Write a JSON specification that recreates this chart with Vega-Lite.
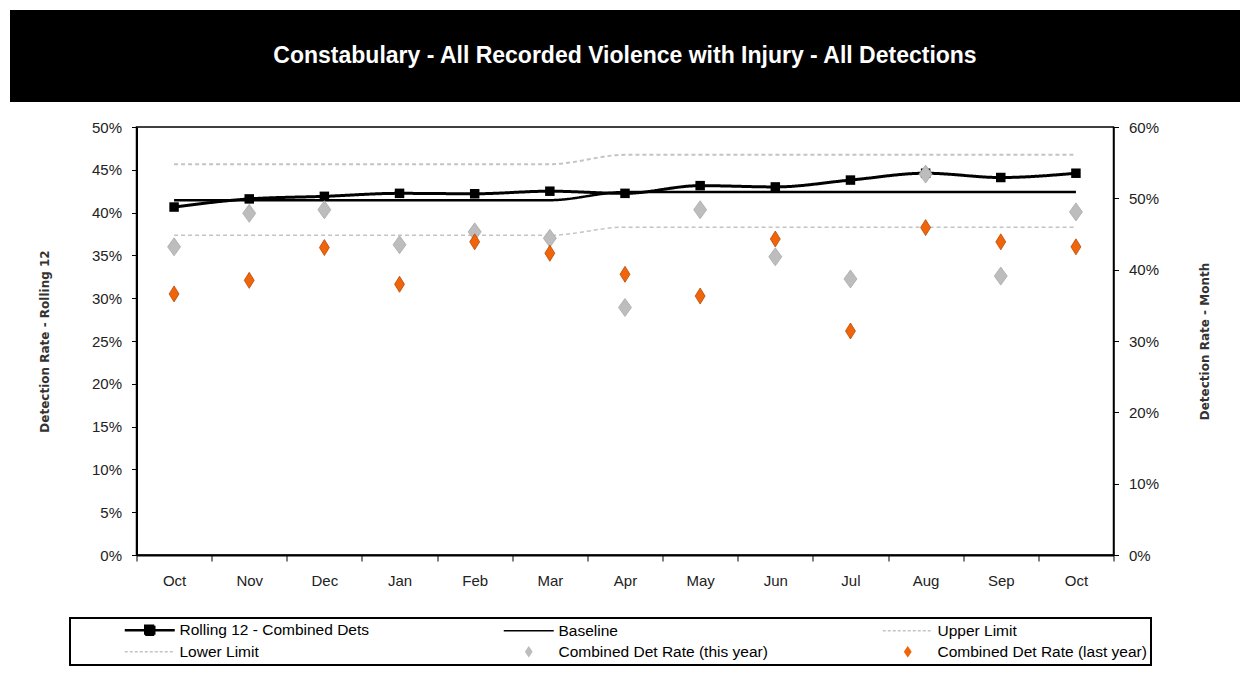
{
  "$schema": "https://vega.github.io/schema/vega-lite/v6.json",
  "background": "white",
  "padding": {"left": 10, "top": 10, "right": 10, "bottom": 5},
  "config": {"font": "Liberation Sans", "view": {"stroke": null}},
  "spacing": 25,
  "center": true,
  "bounds": "flush",
  "vconcat": [
    {
      "width": 1230,
      "height": 92,
      "view": {"fill": "black", "stroke": null},
      "data": {"values": [{"title": "Constabulary - All Recorded Violence with Injury - All Detections"}]},
      "mark": {"type": "text", "color": "white", "fontSize": 23, "fontWeight": "bold", "font": "Liberation Sans"},
      "encoding": {"text": {"field": "title", "type": "nominal"}}
    },
    {
      "width": 977,
      "height": 428,
      "view": {"stroke": "black", "strokeWidth": 1.5},
      "data": {
        "values": [
          {"month": "Oct 1", "series": "Rolling 12 - Combined Dets", "value": 0.4065},
          {"month": "Nov 1", "series": "Rolling 12 - Combined Dets", "value": 0.416},
          {"month": "Dec 1", "series": "Rolling 12 - Combined Dets", "value": 0.419},
          {"month": "Jan 2", "series": "Rolling 12 - Combined Dets", "value": 0.4225},
          {"month": "Feb 2", "series": "Rolling 12 - Combined Dets", "value": 0.422},
          {"month": "Mar 2", "series": "Rolling 12 - Combined Dets", "value": 0.425},
          {"month": "Apr 2", "series": "Rolling 12 - Combined Dets", "value": 0.4225},
          {"month": "May 2", "series": "Rolling 12 - Combined Dets", "value": 0.4315},
          {"month": "Jun 2", "series": "Rolling 12 - Combined Dets", "value": 0.43},
          {"month": "Jul 2", "series": "Rolling 12 - Combined Dets", "value": 0.438},
          {"month": "Aug 2", "series": "Rolling 12 - Combined Dets", "value": 0.446},
          {"month": "Sep 2", "series": "Rolling 12 - Combined Dets", "value": 0.441},
          {"month": "Oct 2", "series": "Rolling 12 - Combined Dets", "value": 0.446},
          {"month": "Oct 1", "series": "Baseline", "value": 0.4145},
          {"month": "Nov 1", "series": "Baseline", "value": 0.4145},
          {"month": "Dec 1", "series": "Baseline", "value": 0.4145},
          {"month": "Jan 2", "series": "Baseline", "value": 0.4145},
          {"month": "Feb 2", "series": "Baseline", "value": 0.4145},
          {"month": "Mar 2", "series": "Baseline", "value": 0.4145},
          {"month": "Apr 2", "series": "Baseline", "value": 0.424},
          {"month": "May 2", "series": "Baseline", "value": 0.424},
          {"month": "Jun 2", "series": "Baseline", "value": 0.424},
          {"month": "Jul 2", "series": "Baseline", "value": 0.424},
          {"month": "Aug 2", "series": "Baseline", "value": 0.424},
          {"month": "Sep 2", "series": "Baseline", "value": 0.424},
          {"month": "Oct 2", "series": "Baseline", "value": 0.424},
          {"month": "Oct 1", "series": "Upper Limit", "value": 0.4565},
          {"month": "Nov 1", "series": "Upper Limit", "value": 0.4565},
          {"month": "Dec 1", "series": "Upper Limit", "value": 0.4565},
          {"month": "Jan 2", "series": "Upper Limit", "value": 0.4565},
          {"month": "Feb 2", "series": "Upper Limit", "value": 0.4565},
          {"month": "Mar 2", "series": "Upper Limit", "value": 0.4565},
          {"month": "Apr 2", "series": "Upper Limit", "value": 0.4675},
          {"month": "May 2", "series": "Upper Limit", "value": 0.4675},
          {"month": "Jun 2", "series": "Upper Limit", "value": 0.4675},
          {"month": "Jul 2", "series": "Upper Limit", "value": 0.4675},
          {"month": "Aug 2", "series": "Upper Limit", "value": 0.4675},
          {"month": "Sep 2", "series": "Upper Limit", "value": 0.4675},
          {"month": "Oct 2", "series": "Upper Limit", "value": 0.4675},
          {"month": "Oct 1", "series": "Lower Limit", "value": 0.3735},
          {"month": "Nov 1", "series": "Lower Limit", "value": 0.3735},
          {"month": "Dec 1", "series": "Lower Limit", "value": 0.3735},
          {"month": "Jan 2", "series": "Lower Limit", "value": 0.3735},
          {"month": "Feb 2", "series": "Lower Limit", "value": 0.3735},
          {"month": "Mar 2", "series": "Lower Limit", "value": 0.3735},
          {"month": "Apr 2", "series": "Lower Limit", "value": 0.383},
          {"month": "May 2", "series": "Lower Limit", "value": 0.383},
          {"month": "Jun 2", "series": "Lower Limit", "value": 0.383},
          {"month": "Jul 2", "series": "Lower Limit", "value": 0.383},
          {"month": "Aug 2", "series": "Lower Limit", "value": 0.383},
          {"month": "Sep 2", "series": "Lower Limit", "value": 0.383},
          {"month": "Oct 2", "series": "Lower Limit", "value": 0.383},
          {"month": "Oct 1", "series": "Combined Det Rate (this year)", "value": 0.432},
          {"month": "Nov 1", "series": "Combined Det Rate (this year)", "value": 0.479},
          {"month": "Dec 1", "series": "Combined Det Rate (this year)", "value": 0.484},
          {"month": "Jan 2", "series": "Combined Det Rate (this year)", "value": 0.435},
          {"month": "Feb 2", "series": "Combined Det Rate (this year)", "value": 0.453},
          {"month": "Mar 2", "series": "Combined Det Rate (this year)", "value": 0.444},
          {"month": "Apr 2", "series": "Combined Det Rate (this year)", "value": 0.347},
          {"month": "May 2", "series": "Combined Det Rate (this year)", "value": 0.484},
          {"month": "Jun 2", "series": "Combined Det Rate (this year)", "value": 0.418},
          {"month": "Jul 2", "series": "Combined Det Rate (this year)", "value": 0.387},
          {"month": "Aug 2", "series": "Combined Det Rate (this year)", "value": 0.534},
          {"month": "Sep 2", "series": "Combined Det Rate (this year)", "value": 0.391},
          {"month": "Oct 2", "series": "Combined Det Rate (this year)", "value": 0.481},
          {"month": "Oct 1", "series": "Combined Det Rate (last year)", "value": 0.366},
          {"month": "Nov 1", "series": "Combined Det Rate (last year)", "value": 0.385},
          {"month": "Dec 1", "series": "Combined Det Rate (last year)", "value": 0.431},
          {"month": "Jan 2", "series": "Combined Det Rate (last year)", "value": 0.3795},
          {"month": "Feb 2", "series": "Combined Det Rate (last year)", "value": 0.439},
          {"month": "Mar 2", "series": "Combined Det Rate (last year)", "value": 0.423},
          {"month": "Apr 2", "series": "Combined Det Rate (last year)", "value": 0.3935},
          {"month": "May 2", "series": "Combined Det Rate (last year)", "value": 0.363},
          {"month": "Jun 2", "series": "Combined Det Rate (last year)", "value": 0.443},
          {"month": "Jul 2", "series": "Combined Det Rate (last year)", "value": 0.314},
          {"month": "Aug 2", "series": "Combined Det Rate (last year)", "value": 0.459},
          {"month": "Sep 2", "series": "Combined Det Rate (last year)", "value": 0.439},
          {"month": "Oct 2", "series": "Combined Det Rate (last year)", "value": 0.432}
        ]
      },
      "layer": [
        {
          "layer": [
            {
              "transform": [{"filter": {"field": "series", "oneOf": ["Rolling 12 - Combined Dets", "Baseline", "Upper Limit", "Lower Limit"]}}],
              "mark": {"type": "line", "interpolate": "monotone"},
              "encoding": {
                "x": {
                  "field": "month", "type": "ordinal", "bandPosition": 0.5,
                  "scale": {"type": "band", "paddingInner": 0, "paddingOuter": 0,
                    "domain": ["Oct 1", "Nov 1", "Dec 1", "Jan 2", "Feb 2", "Mar 2", "Apr 2", "May 2", "Jun 2", "Jul 2", "Aug 2", "Sep 2", "Oct 2"]},
                  "axis": {
                    "title": null, "labelAngle": 0, "tickBand": "extent", "tickSize": 6, "tickColor": "black",
                    "domainColor": "black", "domainWidth": 2, "labelFontSize": 15, "labelColor": "#222",
                    "labelPadding": 12, "grid": false, "labelExpr": "split(datum.label, ' ')[0]"
                  }
                },
                "y": {
                  "field": "value", "type": "quantitative",
                  "scale": {"domain": [0, 0.5], "nice": false, "zero": true},
                  "axis": {
                    "title": "Detection Rate - Rolling 12", "orient": "left",
                    "values": [0, 0.05, 0.1, 0.15, 0.2, 0.25, 0.3, 0.35, 0.4, 0.45, 0.5],
                    "format": ".0%", "grid": false, "tickSize": 5, "tickColor": "black",
                    "domainColor": "black", "domainWidth": 2, "labelFontSize": 15, "labelColor": "#222",
                    "labelPadding": 10, "titleFont": "DejaVu Sans", "titleFontSize": 12, "titleFontWeight": "bold",
                    "titleColor": "#333", "titlePadding": 40
                  }
                },
                "color": {
                  "field": "series", "type": "nominal",
                  "scale": {
                    "domain": ["Rolling 12 - Combined Dets", "Lower Limit", "Baseline", "Combined Det Rate (this year)", "Upper Limit", "Combined Det Rate (last year)"],
                    "range": ["black", "#c4c4c4", "black", "#bdbdbd", "#c4c4c4", "#f0640a"]
                  },
                  "legend": {
                    "title": null, "orient": "none", "legendX": 60, "legendY": 608,
                    "columns": 3, "gridAlign": "all", "columnPadding": 64, "rowPadding": 4,
                    "padding": 4, "symbolSize": 2500, "symbolOffset": 68, "labelFontSize": 15.5, "labelColor": "black",
                    "labelLimit": 400, "labelOffset": 22,
                    "encode": {
                      "legend": {"update": {"stroke": {"value": "black"}, "strokeWidth": {"value": 2}}},
                      "symbols": {
                        "update": {
                          "shape": {"signal": "datum.value == 'Rolling 12 - Combined Dets' ? 'M-1,0H1M-0.18,-0.18H0.18V0.18H-0.18Z' : (indexof(['Combined Det Rate (this year)', 'Combined Det Rate (last year)'], datum.value) >= 0 ? 'M0,-0.18L0.12,0L0,0.18L-0.12,0Z' : 'M-1,0H1')"},
                          "fill": {"signal": "datum.value == 'Rolling 12 - Combined Dets' ? 'black' : (datum.value == 'Combined Det Rate (this year)' ? '#bdbdbd' : (datum.value == 'Combined Det Rate (last year)' ? '#f0640a' : 'transparent'))"},
                          "stroke": {"signal": "indexof(['Rolling 12 - Combined Dets', 'Baseline'], datum.value) >= 0 ? 'black' : (indexof(['Upper Limit', 'Lower Limit'], datum.value) >= 0 ? '#c4c4c4' : 'transparent')"},
                          "strokeWidth": {"signal": "datum.value == 'Rolling 12 - Combined Dets' ? 2.5 : 1.5"},
                          "strokeDash": {"signal": "indexof(['Upper Limit', 'Lower Limit'], datum.value) >= 0 ? [3, 2] : [1, 0]"},
                          "opacity": {"value": 1}
                        }
                      }
                    }
                  }
                },
                "strokeDash": {
                  "field": "series", "type": "nominal",
                  "scale": {"domain": ["Rolling 12 - Combined Dets", "Baseline", "Upper Limit", "Lower Limit"], "range": [[1, 0], [1, 0], [4, 3], [4, 3]]},
                  "legend": null
                },
                "strokeWidth": {
                  "field": "series", "type": "nominal",
                  "scale": {"domain": ["Rolling 12 - Combined Dets", "Baseline", "Upper Limit", "Lower Limit"], "range": [3, 1.5, 1.5, 1.5]},
                  "legend": null
                }
              }
            },
            {
              "transform": [{"filter": {"field": "series", "equal": "Rolling 12 - Combined Dets"}}],
              "mark": {"type": "square", "size": 90, "filled": true, "opacity": 1},
              "encoding": {
                "x": {"field": "month", "type": "ordinal", "bandPosition": 0.5},
                "y": {"field": "value", "type": "quantitative"},
                "color": {"field": "series", "type": "nominal", "legend": null}
              }
            }
          ]
        },
        {
          "transform": [{"filter": {"field": "series", "oneOf": ["Combined Det Rate (this year)", "Combined Det Rate (last year)"]}}],
          "mark": {"type": "point", "filled": true, "opacity": 1, "strokeWidth": 0.8},
          "encoding": {
            "x": {"field": "month", "type": "ordinal", "bandPosition": 0.5},
            "y": {
              "field": "value", "type": "quantitative",
              "scale": {"domain": [0, 0.6], "nice": false, "zero": true},
              "axis": {
                "title": "Detection Rate - Month", "orient": "right",
                "values": [0, 0.1, 0.2, 0.3, 0.4, 0.5, 0.6],
                "format": ".0%", "grid": false, "tickSize": 5, "tickColor": "black",
                "domainColor": "black", "domainWidth": 1.5, "labelFontSize": 15, "labelColor": "#222",
                "labelPadding": 10, "titleFont": "DejaVu Sans", "titleFontSize": 12, "titleFontWeight": "bold",
                "titleColor": "#333", "titlePadding": 53, "titleAngle": 270
              }
            },
            "color": {"field": "series", "type": "nominal", "legend": null},
            "stroke": {
              "field": "series", "type": "nominal",
              "scale": {"domain": ["Combined Det Rate (this year)", "Combined Det Rate (last year)"], "range": ["#a9a9a9", "#b84a08"]},
              "legend": null
            },
            "shape": {
              "field": "series", "type": "nominal",
              "scale": {"domain": ["Combined Det Rate (this year)", "Combined Det Rate (last year)"], "range": ["M0,-1L0.72,0L0,1L-0.72,0Z", "M0,-1L0.62,0L0,1L-0.62,0Z"]},
              "legend": null
            },
            "size": {
              "field": "series", "type": "nominal",
              "scale": {"domain": ["Combined Det Rate (this year)", "Combined Det Rate (last year)"], "range": [324, 256]},
              "legend": null
            }
          }
        }
      ],
      "resolve": {"scale": {"y": "independent"}}
    }
  ]
}
